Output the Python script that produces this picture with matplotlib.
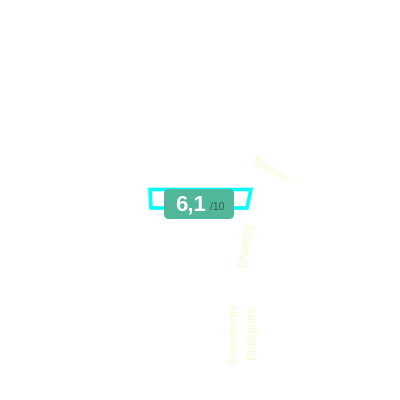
import matplotlib
matplotlib.use("Agg")
import matplotlib.pyplot as plt
from matplotlib.patches import FancyBboxPatch, Polygon

score_text = "6,1"
score_max = "/10"
labels = ["Scenery", "Drawing", "Dramaturgy", "Dialogues"]
label_x = [271, 245.5, 233, 252]
label_y = [170, 245, 333, 333]
label_rot = [-28, 83, 90, 90]
label_size = [8, 8.5, 8.2, 8.6]
# outline of the shape, pixels
shape_x = [150, 251, 247, 151]
shape_y = [189.5, 189.5, 208, 208]

fig = plt.figure(figsize=(4, 4), dpi=100)
ax = fig.add_axes([0, 0, 1, 1])
ax.set_xlim(0, 400)
ax.set_ylim(400, 0)
ax.axis("off")

ax.add_patch(Polygon(list(zip(shape_x, shape_y)), closed=True, fill=False, edgecolor="#00ffff", linewidth=2.6, joinstyle="miter"))

ax.add_patch(FancyBboxPatch((164, 189), 70, 30, boxstyle="round,pad=0,rounding_size=5", linewidth=0, facecolor="#52b69a"))

ax.text(191, 205.5, score_text, color="white", fontsize=16, fontweight="bold", ha="center", va="center", family="Liberation Sans")
ax.text(217.5, 206.5, score_max, color="#2f5d52", fontsize=7.5, ha="center", va="center", family="Liberation Sans")

for t, x, y, r, s in zip(labels, label_x, label_y, label_rot, label_size):
    ax.text(x, y, t, color="#f6fbcf", fontsize=s, rotation=r, ha="center", va="center", rotation_mode="anchor", family="Liberation Sans")

fig.savefig("out.png", dpi=100, facecolor="white")
